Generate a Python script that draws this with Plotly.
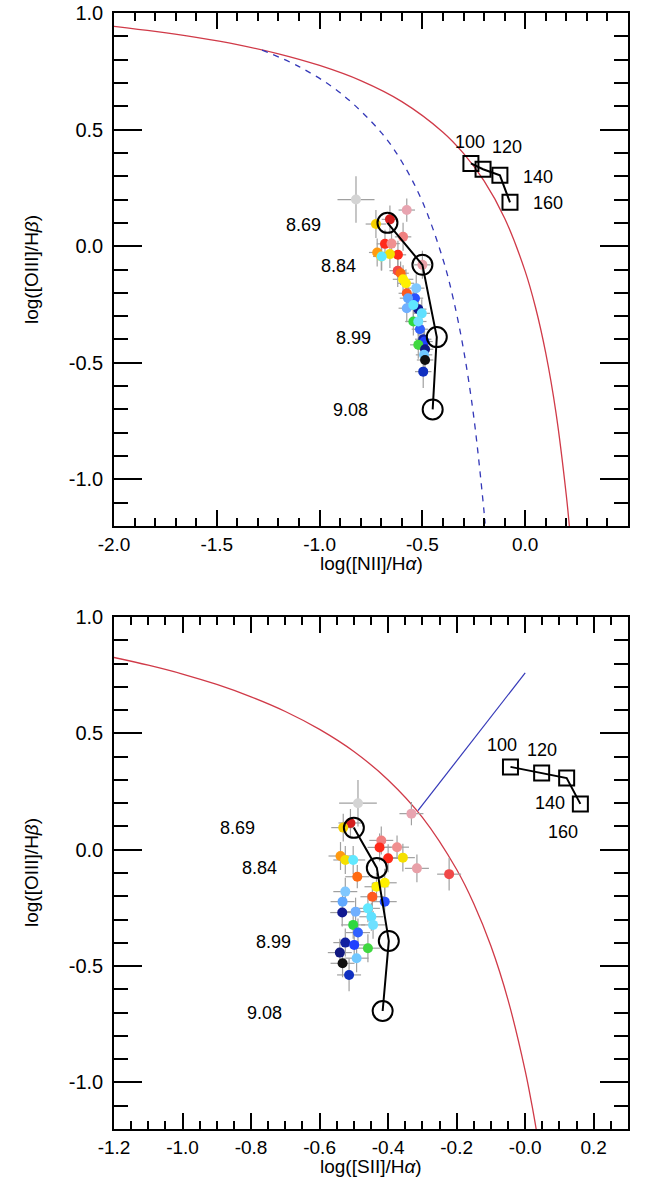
import plotly.graph_objects as go

# --- demarcation curves ---
kew_nii_x = [-2.0, -1.8, -1.6, -1.4, -1.2, -1.0, -0.8, -0.6, -0.4, -0.3, -0.2, -0.1, 0.0, 0.05, 0.1, 0.15, 0.2, 0.215]
kew_nii_y = [0.943, 0.921, 0.895, 0.864, 0.825, 0.775, 0.710, 0.620, 0.489, 0.398, 0.280, 0.120, -0.108, -0.262, -0.459, -0.716, -1.069, -1.202]
kau_nii_x = [-1.28, -1.1, -0.9, -0.7, -0.6, -0.5, -0.4, -0.35, -0.3, -0.25, -0.2, -0.195]
kau_nii_y = [0.841, 0.770, 0.658, 0.487, 0.362, 0.191, -0.056, -0.225, -0.443, -0.733, -1.140, -1.190]
kew_sii_x = [-1.2, -1.1, -1.0, -0.9, -0.8, -0.7, -0.6, -0.5, -0.4, -0.3, -0.2, -0.15, -0.1, -0.05, 0.0, 0.02, 0.032]
kew_sii_y = [0.826, 0.793, 0.755, 0.710, 0.657, 0.594, 0.517, 0.422, 0.300, 0.139, -0.085, -0.232, -0.414, -0.646, -0.950, -1.100, -1.200]
sey_sii_x = [-0.313, 0.0]
sey_sii_y = [0.168, 0.76]

# --- photoionisation model track (circles) ---
z_labels = ["8.69", "8.84", "8.99", "9.08"]
z_nii_x = [-0.67, -0.50, -0.43, -0.45]
z_nii_y = [0.10, -0.08, -0.39, -0.70]
z_sii_x = [-0.50, -0.433, -0.398, -0.416]
z_sii_y = [0.094, -0.078, -0.392, -0.693]
zlab_nii_x = [-1.08, -0.906, -0.837, -0.852]
zlab_nii_y = [0.09, -0.086, -0.395, -0.703]
zlab_sii_x = [-0.841, -0.774, -0.736, -0.76]
zlab_sii_y = [0.094, -0.078, -0.396, -0.70]

# --- shock model track (squares) ---
v_labels = ["100", "120", "140", "160"]
v_nii_x = [-0.264, -0.205, -0.123, -0.074]
v_nii_y = [0.355, 0.330, 0.304, 0.188]
v_sii_x = [-0.043, 0.048, 0.121, 0.161]
v_sii_y = [0.356, 0.330, 0.308, 0.197]
vlab_nii_x = [-0.268, -0.089, 0.062, 0.111]
vlab_nii_y = [0.445, 0.424, 0.295, 0.184]
vlab_sii_x = [-0.069, 0.048, 0.071, 0.109]
vlab_sii_y = [0.45, 0.429, 0.201, 0.076]

# --- observed regions ---
obs_y = [0.20, 0.155, 0.115, 0.095, 0.04, 0.01, 0.011, -0.037, -0.034, -0.08, -0.105, -0.027,
         -0.044, -0.044, -0.116, -0.142, -0.159, -0.202, -0.223, -0.18, -0.223, -0.27, -0.266,
         -0.252, -0.288, -0.323, -0.356, -0.323, -0.399, -0.409, -0.423, -0.442, -0.466, -0.488, -0.538]
obs_nii = [-0.823, -0.576, -0.658, -0.726, -0.594, -0.682, -0.65, -0.619, -0.658, -0.50, -0.62, -0.72,
           -0.70, -0.698, -0.606, -0.594, -0.58, -0.576, -0.536, -0.53, -0.57, -0.52, -0.576,
           -0.544, -0.503, -0.544, -0.512, -0.52, -0.496, -0.49, -0.52, -0.487, -0.492, -0.487, -0.496]
obs_sii = [-0.488, -0.332, -0.51, -0.531, -0.42, -0.425, -0.374, -0.40, -0.357, -0.316, -0.222, -0.539,
           -0.525, -0.502, -0.49, -0.41, -0.434, -0.446, -0.41, -0.525, -0.533, -0.534, -0.495,
           -0.459, -0.449, -0.502, -0.488, -0.444, -0.525, -0.499, -0.459, -0.541, -0.492, -0.533, -0.514]
obs_col = ["#d4d4d4", "#e8a4b0", "#d41e1e", "#f5d000", "#f08080", "#ff2a1a", "#f09090", "#ff2a1a",
           "#f5e000", "#e8a0a8", "#f04848", "#ff9a10", "#f5e000", "#60e8ff", "#ff6a10", "#fff000",
           "#fff000", "#ff5a20", "#2850ff", "#80c8ff", "#60a8ff", "#101890", "#70b0ff", "#60e8ff",
           "#60e0ff", "#30d840", "#3060ff", "#70e0ff", "#1020a0", "#2040ff", "#40d840", "#101880",
           "#70c8ff", "#101010", "#1030c0"]
err_y = [0.10, 0.05, 0.06, 0.06, 0.06, 0.06, 0.05, 0.06, 0.06, 0.06, 0.07, 0.06,
         0.06, 0.06, 0.05, 0.06, 0.06, 0.06, 0.06, 0.06, 0.06, 0.06, 0.06,
         0.06, 0.06, 0.06, 0.06, 0.06, 0.06, 0.06, 0.06, 0.06, 0.06, 0.06, 0.07]
err_nii = [0.09, 0.04, 0.04, 0.05, 0.04, 0.04, 0.04, 0.04, 0.04, 0.04, 0.04, 0.04,
           0.04, 0.04, 0.04, 0.05, 0.04, 0.04, 0.04, 0.04, 0.04, 0.04, 0.04,
           0.04, 0.04, 0.04, 0.04, 0.04, 0.04, 0.04, 0.04, 0.04, 0.04, 0.04, 0.04]
err_sii = [0.055, 0.035, 0.035, 0.035, 0.035, 0.035, 0.035, 0.035, 0.035, 0.035, 0.035, 0.035,
           0.035, 0.035, 0.035, 0.035, 0.035, 0.035, 0.035, 0.035, 0.035, 0.035, 0.035,
           0.035, 0.035, 0.035, 0.035, 0.035, 0.035, 0.035, 0.035, 0.035, 0.035, 0.035, 0.035]

y_ticks = [-1.0, -0.5, 0.0, 0.5, 1.0]
y_tick_text = ["-1.0", "-0.5", "0.0", "0.5", "1.0"]
nii_ticks = [-2.0, -1.5, -1.0, -0.5, 0.0]
nii_tick_text = ["-2.0", "-1.5", "-1.0", "-0.5", "0.0"]
sii_ticks = [-1.2, -1.0, -0.8, -0.6, -0.4, -0.2, 0.0, 0.2]
sii_tick_text = ["-1.2", "-1.0", "-0.8", "-0.6", "-0.4", "-0.2", "-0.0", "0.2"]

FONT = "Liberation Sans, Arial, sans-serif"
RED = "#d03a48"
BLUE = "#3438b8"
W, H = 648, 1180


def px_x(p):
    return p / W


def px_y(p):
    return 1 - p / H


fig = go.Figure()

for xa, ya, xs, ys in [("x", "y", kew_nii_x, kew_nii_y), ("x2", "y2", kew_sii_x, kew_sii_y)]:
    fig.add_trace(go.Scatter(x=xs, y=ys, mode="lines", line=dict(color=RED, width=1.3),
                             line_shape="spline", xaxis=xa, yaxis=ya, hoverinfo="skip"))
fig.add_trace(go.Scatter(x=kau_nii_x, y=kau_nii_y, mode="lines", line_shape="spline",
                         line=dict(color=BLUE, width=1.3, dash="6px,6px"), xaxis="x", yaxis="y"))
fig.add_trace(go.Scatter(x=sey_sii_x, y=sey_sii_y, mode="lines",
                         line=dict(color=BLUE, width=1.2), xaxis="x2", yaxis="y2"))

# observed points with error bars
for xa, ya, xs, ex in [("x", "y", obs_nii, err_nii), ("x2", "y2", obs_sii, err_sii)]:
    fig.add_trace(go.Scatter(
        x=xs, y=obs_y, mode="markers", xaxis=xa, yaxis=ya,
        marker=dict(color=obs_col, size=10, line=dict(width=0)),
        error_x=dict(type="data", array=ex, color="#a0a0a0", thickness=1.2, width=0),
        error_y=dict(type="data", array=err_y, color="#a0a0a0", thickness=1.2, width=0)))

# model tracks
for xa, ya, zx, zy, vx, vy in [("x", "y", z_nii_x, z_nii_y, v_nii_x, v_nii_y),
                               ("x2", "y2", z_sii_x, z_sii_y, v_sii_x, v_sii_y)]:
    fig.add_trace(go.Scatter(x=zx, y=zy, mode="lines+markers", xaxis=xa, yaxis=ya,
                             line=dict(color="black", width=2),
                             marker=dict(symbol="circle-open", size=20, color="black",
                                         line=dict(width=2))))
    fig.add_trace(go.Scatter(x=vx, y=vy, mode="lines+markers", xaxis=xa, yaxis=ya,
                             line=dict(color="black", width=2),
                             marker=dict(symbol="square-open", size=15, color="black",
                                         line=dict(width=2))))

annotations = []
for xr, yr, lx, ly in [("x", "y", zlab_nii_x, zlab_nii_y), ("x2", "y2", zlab_sii_x, zlab_sii_y)]:
    for t, ax_, ay_ in zip(z_labels, lx, ly):
        annotations.append(dict(x=ax_, y=ay_, xref=xr, yref=yr, text=t, showarrow=False,
                                font=dict(size=18, color="black", family=FONT)))
for xr, yr, lx, ly in [("x", "y", vlab_nii_x, vlab_nii_y), ("x2", "y2", vlab_sii_x, vlab_sii_y)]:
    for t, ax_, ay_ in zip(v_labels, lx, ly):
        annotations.append(dict(x=ax_, y=ay_, xref=xr, yref=yr, text=t, showarrow=False,
                                font=dict(size=18, color="black", family=FONT)))

# axis titles
title_font = dict(size=19, color="black", family=FONT)
for tx, ty, txt, ang in [(371, 563, "log([NII]/H<i>α</i>)", 0),
                         (371, 1166, "log([SII]/H<i>α</i>)", 0),
                         (31, 270, "log([OIII]/H<i>β</i>)", -90),
                         (31, 873, "log([OIII]/H<i>β</i>)", -90)]:
    annotations.append(dict(x=px_x(tx), y=px_y(ty), xref="paper", yref="paper", text=txt,
                            xanchor="center", yanchor="middle", showarrow=False,
                            textangle=ang, font=title_font))


def xaxis_style(rng, vals, text, minor_dt, dom, anchor):
    return dict(range=rng, domain=dom, anchor=anchor, tickvals=vals, ticktext=text,
                ticks="inside", ticklen=16, tickwidth=1.5, tickcolor="black",
                minor=dict(ticks="inside", dtick=minor_dt, tick0=0, ticklen=8,
                           tickwidth=1.5, tickcolor="black", showgrid=False),
                showline=True, linecolor="black", linewidth=1.5, mirror="allticks",
                showgrid=False, zeroline=False, ticklabelstandoff=0, automargin=False,
                ticklabeloverflow="allow",
                tickfont=dict(size=19, color="black", family=FONT))


def yaxis_style(dom, anchor):
    return dict(range=[-1.2, 1.0], domain=dom, anchor=anchor, tickvals=y_ticks,
                ticktext=y_tick_text, ticks="inside", ticklen=28, tickwidth=1.5,
                tickcolor="black",
                minor=dict(ticks="inside", dtick=0.1, tick0=0, ticklen=14, tickwidth=1.5,
                           tickcolor="black", showgrid=False),
                showline=True, linecolor="black", linewidth=1.5, mirror="allticks",
                showgrid=False, zeroline=False, ticklabelstandoff=5, automargin=False,
                ticklabeloverflow="allow",
                tickfont=dict(size=20, color="black", family=FONT))


xdom = [px_x(114), px_x(628)]
fig.update_layout(
    width=W, height=H,
    margin=dict(l=0, r=0, t=0, b=0, pad=0),
    paper_bgcolor="white", plot_bgcolor="white",
    showlegend=False,
    xaxis=xaxis_style([-2.0, 0.5], nii_ticks, nii_tick_text, 0.1, xdom, "y"),
    yaxis=yaxis_style([px_y(526), px_y(13)], "x"),
    xaxis2=xaxis_style([-1.2, 0.3], sii_ticks, sii_tick_text, 0.05, xdom, "y2"),
    yaxis2=yaxis_style([px_y(1129), px_y(617)], "x2"),
    annotations=annotations,
)

# drop the default page margin so the figure fills the window exactly
fig.write_html("out.html", config={"displayModeBar": False},
               post_script="document.body.style.margin='0';")
